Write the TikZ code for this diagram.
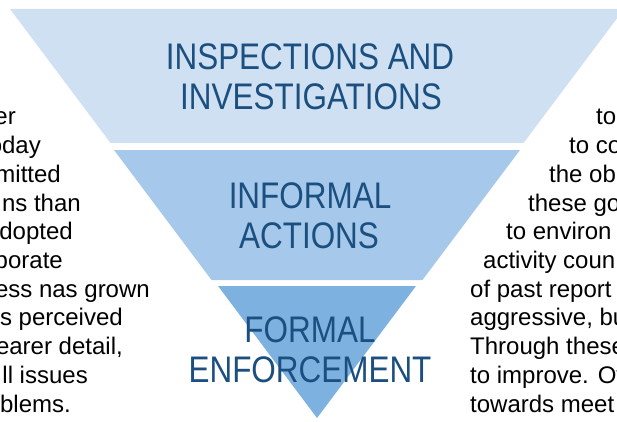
\documentclass[tikz,border=0pt]{standalone}
\usepackage{fontspec}
\setmainfont{Liberation Sans}
\newfontfamily\bandfont[FakeStretch=0.85]{Liberation Sans}
\definecolor{bandA}{HTML}{CFE0F2}
\definecolor{bandB}{HTML}{A6C8EA}
\definecolor{bandC}{HTML}{7DB2E0}
\definecolor{bandtext}{HTML}{1B4F7F}
\tikzset{
  bandlabel/.style={inner sep=0pt, anchor=base, text=bandtext, font=\bandfont\fontsize{37}{40}\selectfont},
  bodyL/.style={inner sep=0pt, anchor=base east, text=black, font=\fontsize{24}{28}\selectfont},
  bodyR/.style={inner sep=0pt, anchor=base west, text=black, font=\fontsize{24}{28}\selectfont}
}
\begin{document}
\begin{tikzpicture}[x=1pt,y=-1pt]
\useasboundingbox (0,0) rectangle (617,422);
\clip (0,0) rectangle (617,422);
% bands
\fill[bandA] (10,9) -- (624,9) -- (523.5,143) -- (110.5,143) -- cycle;
\fill[bandB] (114,150) -- (520,150) -- (422.5,280) -- (211.5,280) -- cycle;
\fill[bandC] (218,286) -- (416,286) -- (317,418) -- cycle;
% band labels
\node[bandlabel] (t1) at (310,70) {INSPECTIONS AND};
\node[bandlabel] (t2) at (311,110) {INVESTIGATIONS};
\node[bandlabel] (m1) at (310,208) {INFORMAL};
\node[bandlabel] (m2) at (309,248) {ACTIONS};
\node[bandlabel] (b1) at (310,342) {FORMAL};
\node[bandlabel] (b2) at (310,382) {ENFORCEMENT};
% left text
\node[bodyL] (l1) at (16,125) {er};
\node[bodyL] (l2) at (41,153.7) {oday};
\node[bodyL] (l3) at (61,182.4) {mitted};
\node[bodyL] (l4) at (81,211.1) {ns than};
\node[bodyL] (l5) at (73,239.8) {dopted};
\node[bodyL] (l6) at (63,268.5) {porate};
\node[bodyL] (l7) at (150,297.2) {ess nas grown};
\node[bodyL] (l8) at (123,325.9) {s perceived};
\node[bodyL] (l9) at (123,354.6) {earer detail,};
\node[bodyL] (l10) at (88,383.3) {ll issues};
\node[bodyL] (l11) at (71,412) {blems.};
% right text
\node[bodyR] (r1) at (596,125) {to};
\node[bodyR] (r2) at (569,153.7) {to co};
\node[bodyR] (r3) at (549,182.4) {the ob};
\node[bodyR] (r4) at (528,211.1) {these go};
\node[bodyR] (r5) at (506,239.8) {to environ};
\node[bodyR] (r6) at (483,268.5) {activity coun};
\node[bodyR] (r7) at (470,297.2) {of past report};
\node[bodyR] (r8) at (470,325.9) {aggressive, bu};
\node[bodyR] (r9) at (470,354.6) {Through these};
\node[bodyR] (r10) at (470,383.3) {to improve. Ov};
\node[bodyR] (r11) at (470,412) {towards meet};
\end{tikzpicture}
\end{document}
